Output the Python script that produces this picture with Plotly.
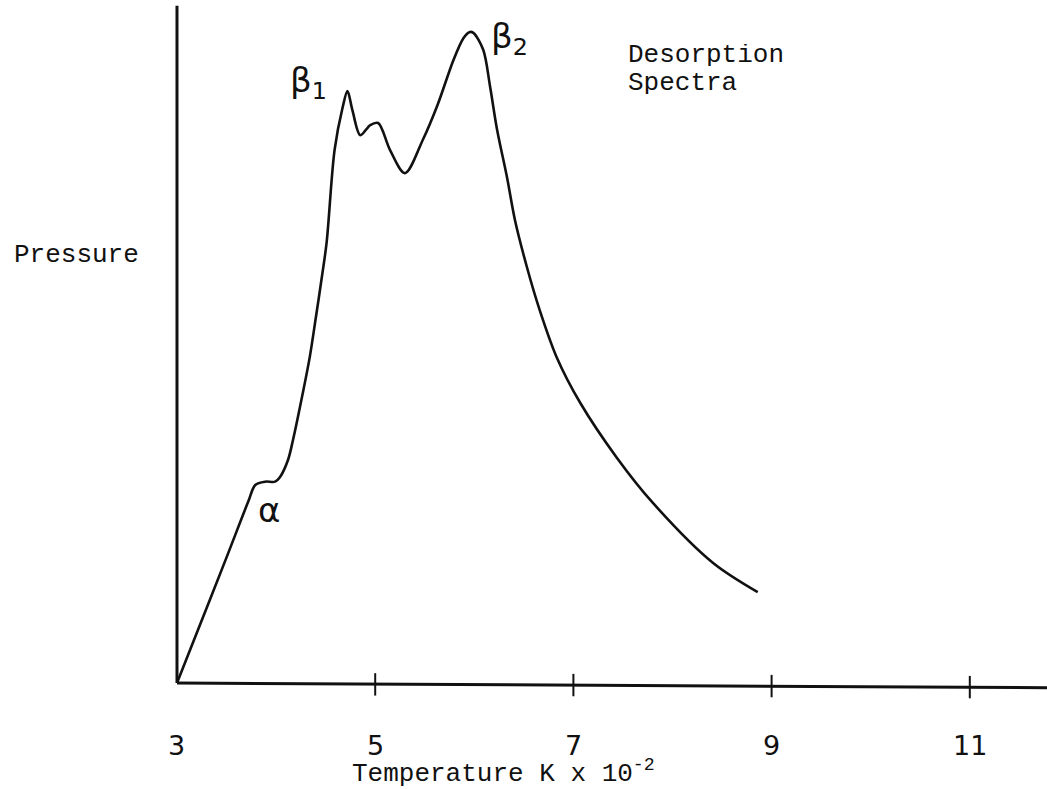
import plotly.graph_objects as go

# Desorption spectrum: temperature (K x 10^-2) vs pressure (arbitrary units)
temperature = [3.00, 3.33, 3.51, 3.72, 3.79, 3.89, 3.99, 4.04, 4.12, 4.17, 4.27,
               4.34, 4.40, 4.46, 4.51, 4.59, 4.67, 4.72, 4.77, 4.85, 4.95, 5.03,
               5.15, 5.30, 5.48, 5.63, 5.79, 5.89, 5.95, 5.99, 6.09, 6.16, 6.23,
               6.33, 6.41, 6.53, 6.66, 6.83, 7.07, 7.44, 7.80, 8.41, 8.86]
pressure = [0.00, 1.22, 1.89, 2.68, 2.92, 2.97, 2.97, 3.04, 3.29, 3.58, 4.28,
            4.81, 5.38, 5.97, 6.50, 7.86, 8.48, 8.73, 8.45, 8.08, 8.23, 8.26,
            7.86, 7.52, 8.01, 8.53, 9.19, 9.51, 9.60, 9.59, 9.34, 8.79, 8.16,
            7.46, 6.83, 6.14, 5.50, 4.81, 4.13, 3.32, 2.66, 1.77, 1.34]

tick_values = [5, 7, 9, 11]
tick_labels = ["3", "5", "7", "9", "11"]
tick_label_pos = [3, 5, 7, 9, 11]

peak_labels = ["β<sub>1</sub>", "β<sub>2</sub>", "α"]
peak_label_x = [4.33, 6.36, 3.93]
peak_label_y = [8.86, 9.51, 2.55]

X_RANGE = [1.214, 11.779]
Y_RANGE = [-1.563, 10.074]

ink = "#111111"
mono = "Liberation Mono, Courier New, monospace"

fig = go.Figure()

# axes drawn as plain lines in data space
fig.add_trace(go.Scatter(x=[3, 3], y=[0, 9.99], mode="lines",
                         line=dict(color=ink, width=3), hoverinfo="skip"))
fig.add_trace(go.Scatter(x=[3, X_RANGE[1]], y=[0, -0.07], mode="lines",
                         line=dict(color=ink, width=3), hoverinfo="skip"))
# tick marks crossing the temperature axis
fig.add_trace(go.Scatter(x=tick_values, y=[-0.02, -0.03, -0.045, -0.06], mode="markers",
                         marker=dict(symbol="line-ns", size=16,
                                     line=dict(color=ink, width=2)),
                         hoverinfo="skip"))

# spectrum curve
fig.add_trace(go.Scatter(x=temperature, y=pressure, mode="lines",
                         line=dict(color=ink, width=2.6, shape="spline", smoothing=0.9),
                         hoverinfo="skip"))

annotations = []
for lab, xv in zip(tick_labels, tick_label_pos):
    annotations.append(dict(x=xv, y=-0.92, xref="x", yref="y", text=lab,
                            showarrow=False, xanchor="center", yanchor="middle",
                            font=dict(family="DejaVu Sans", size=27, color=ink)))
for lab, xv, yv in zip(peak_labels, peak_label_x, peak_label_y):
    annotations.append(dict(x=xv, y=yv, xref="x", yref="y", text=lab,
                            showarrow=False, xanchor="center", yanchor="middle",
                            font=dict(family="DejaVu Sans", size=34, color=ink)))

annotations += [
    dict(x=12 / 1047, y=1 - 255 / 789, xref="paper", yref="paper", text="Pressure",
         showarrow=False, xanchor="left", yanchor="middle",
         font=dict(family=mono, size=26, color=ink)),
    dict(x=626 / 1047, y=1 - 55 / 789, xref="paper", yref="paper", text="Desorption",
         showarrow=False, xanchor="left", yanchor="middle", height=22,
         font=dict(family=mono, size=26, color=ink)),
    dict(x=626 / 1047, y=1 - 83 / 789, xref="paper", yref="paper", text="Spectra",
         showarrow=False, xanchor="left", yanchor="middle", height=22,
         font=dict(family=mono, size=26, color=ink)),
    dict(x=350 / 1047, y=1 - 772 / 789, xref="paper", yref="paper",
         text="Temperature K x 10<sup>-2</sup>",
         showarrow=False, xanchor="left", yanchor="middle",
         font=dict(family=mono, size=26, color=ink)),
]

fig.update_layout(
    width=1047, height=789,
    margin=dict(l=0, r=0, t=0, b=0),
    paper_bgcolor="white", plot_bgcolor="white",
    showlegend=False,
    xaxis=dict(range=X_RANGE, visible=False),
    yaxis=dict(range=Y_RANGE, visible=False),
    annotations=annotations,
)

fig.write_html("out.html")
